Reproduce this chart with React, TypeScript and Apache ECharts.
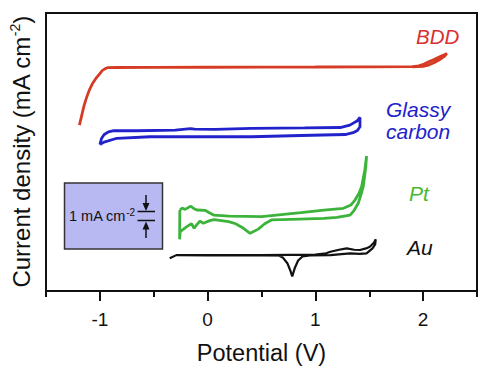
import React, { useEffect, useRef } from "react";
import * as echarts from "echarts";

// Potential (V) vs current density (mA cm-2, curves offset vertically)
const majorTicks = [-1, 0, 1, 2];
const minorTicks = [-1.5, -0.5, 0.5, 1.5, 2.5];

const bdd: [number, number][] = [
  [-1.19, 18.5], [-1.17, 19.5], [-1.145, 20.75], [-1.12, 21.7], [-1.098, 22.4],
  [-1.07, 23.1], [-1.037, 23.7], [-1.0, 24.25], [-0.976, 24.6], [-0.95, 24.8],
  [-0.93, 24.9], [-0.85, 24.92], [-0.5, 24.93], [0, 24.95], [0.5, 24.97],
  [1.0, 24.98], [1.5, 25.0], [1.9, 25.02], [1.96, 25.1], [2.01, 25.3],
  [2.053, 25.56], [2.1, 25.8], [2.144, 26.05], [2.19, 26.3], [2.22, 26.5],
  [2.2, 26.2], [2.16, 25.85], [2.1, 25.45], [2.05, 25.2], [2.0, 25.06], [1.9, 25.0],
];

const glassy: [number, number][] = [
  [-1.0, 16.33], [-0.985, 17.0], [-0.96, 17.45], [-0.92, 17.75], [-0.87, 17.87],
  [-0.66, 17.87], [-0.3, 17.95], [-0.16, 18.1], [-0.12, 18.05], [0.07, 18.02],
  [0.41, 18.14], [0.9, 18.18], [1.23, 18.23], [1.32, 18.5], [1.386, 18.95],
  [1.414, 19.36], [1.414, 18.32], [1.39, 17.9], [1.35, 17.65], [1.277, 17.45],
  [0.867, 17.34], [0.41, 17.2], [0.07, 17.22], [-0.534, 17.2], [-0.842, 17.03],
  [-0.961, 16.6], [-1.0, 16.33],
];

const pt: [number, number][] = [
  [-0.258, 9.03], [-0.235, 9.25], [-0.21, 9.1], [-0.18, 9.3], [-0.155, 9.45],
  [-0.13, 9.2], [-0.1, 9.03], [-0.02, 8.98], [0.02, 8.7], [0.06, 8.45],
  [0.2, 8.35], [0.5, 8.3], [0.866, 8.73], [1.079, 9.03], [1.26, 9.22],
  [1.33, 9.6], [1.368, 10.14], [1.405, 10.9], [1.429, 11.63], [1.459, 13.49],
  [1.475, 15.05], [1.468, 13.86], [1.444, 11.63], [1.42, 10.6], [1.398, 9.78],
  [1.36, 9.0], [1.322, 8.47], [1.2, 8.2], [1.079, 8.1], [0.774, 7.99],
  [0.592, 7.92], [0.53, 7.5], [0.47, 6.9], [0.394, 6.43], [0.333, 6.99],
  [0.26, 7.5], [0.196, 7.73], [0.059, 7.95], [0.02, 7.85], [-0.04, 7.55],
  [-0.07, 7.8], [-0.1, 7.4], [-0.125, 7.0], [-0.15, 7.5], [-0.19, 7.2],
  [-0.23, 6.85], [-0.255, 6.61], [-0.26, 5.76], [-0.258, 9.03],
];

const au: [number, number][] = [
  [-0.352, 3.65], [-0.29, 4.0], [0, 4.0], [0.5, 4.0], [1.0, 4.05],
  [1.1, 4.2], [1.14, 4.38], [1.22, 4.6], [1.29, 4.76], [1.36, 4.6],
  [1.414, 4.57], [1.47, 4.75], [1.505, 4.94], [1.545, 5.4], [1.56, 5.76],
  [1.555, 5.2], [1.53, 4.75], [1.475, 4.2], [1.41, 4.15], [1.322, 4.2],
  [1.14, 4.0], [0.95, 3.98], [0.88, 3.85], [0.84, 3.4], [0.81, 2.6],
  [0.785, 1.62], [0.77, 2.2], [0.74, 3.1], [0.70, 3.7], [0.66, 3.95],
  [0.5, 3.98], [0, 3.98], [-0.29, 4.0],
];

const FONT = "'Liberation Sans', Arial, sans-serif";

export default function App() {
  const ref = useRef<HTMLDivElement>(null);
  useEffect(() => {
    if (!ref.current) return;
    const chart = echarts.init(ref.current, null, { renderer: "svg" });
    const line = (data: [number, number][], color: string, width = 2.8) => ({
      type: "line",
      data,
      showSymbol: false,
      symbol: "none",
      silent: true,
      lineStyle: { color, width },
    });
    chart.setOption({
      animation: false,
      backgroundColor: "#ffffff",
      grid: {
        left: 42, right: 9, top: 13, bottom: 79,
        show: true, borderColor: "#111", borderWidth: 2,
      },
      xAxis: [
        {
          type: "value", min: -1.5, max: 2.5, position: "bottom",
          axisLine: { show: true, lineStyle: { color: "#111", width: 2 } },
          axisTick: { show: true, customValues: majorTicks, length: 10, lineStyle: { color: "#111", width: 2 } },
          axisLabel: {
            customValues: majorTicks, margin: 19, fontSize: 19, color: "#111", fontFamily: FONT,
            formatter: (v: number) => String(v),
          },
          splitLine: { show: false },
          name: "Potential (V)", nameLocation: "middle", nameGap: 50,
          nameTextStyle: { fontSize: 23.5, color: "#111", fontFamily: FONT },
        },
        {
          type: "value", min: -1.5, max: 2.5, position: "bottom",
          axisLine: { show: false },
          axisTick: { show: true, customValues: minorTicks, length: 6, lineStyle: { color: "#111", width: 2 } },
          axisLabel: { show: false },
          splitLine: { show: false },
        },
      ],
      yAxis: {
        type: "value", min: 0, max: 31,
        axisLine: { show: false }, axisTick: { show: false },
        axisLabel: { show: false }, splitLine: { show: false },
        name: "{a|Current density (mA cm}{s|-2}{a|)}",
        nameLocation: "middle", nameGap: 12, nameRotate: 90,
        nameTextStyle: {
          color: "#111", fontFamily: FONT,
          rich: {
            a: { fontSize: 24, color: "#111", fontFamily: FONT, lineHeight: 26 },
            s: { fontSize: 14, color: "#111", fontFamily: FONT, verticalAlign: "top", lineHeight: 26 },
          },
        },
      },
      series: [
        line(bdd, "#d63c25"),
        line(glassy, "#2222cc"),
        line(pt, "#3cb43c"),
        line(au, "#111111", 2.2),
      ],
      graphic: [
        { type: "text", style: { text: "BDD", x: 416, y: 36, align: "left", verticalAlign: "middle", font: `italic 20.5px ${FONT}`, fill: "#d83030" } },
        { type: "text", style: { text: "Glassy", x: 386, y: 109, align: "left", verticalAlign: "middle", font: `italic 21px ${FONT}`, fill: "#2222cc" } },
        { type: "text", style: { text: "carbon", x: 386, y: 131, align: "left", verticalAlign: "middle", font: `italic 21px ${FONT}`, fill: "#2222cc" } },
        { type: "text", style: { text: "Pt", x: 409, y: 193, align: "left", verticalAlign: "middle", font: `italic 21px ${FONT}`, fill: "#44bb33" } },
        { type: "text", style: { text: "Au", x: 407, y: 247, align: "left", verticalAlign: "middle", font: `italic 21px ${FONT}`, fill: "#111" } },
        { type: "rect", shape: { x: 64.5, y: 183, width: 98, height: 66 }, style: { fill: "#b8b8f2", stroke: "#333", lineWidth: 1.5 } },
        {
          type: "text",
          style: {
            text: "{a|1 mA cm}{s|-2}", x: 69, y: 216, align: "left", verticalAlign: "middle",
            rich: {
              a: { fontSize: 14.5, fontFamily: FONT, fill: "#111", lineHeight: 17 },
              s: { fontSize: 10, fontFamily: FONT, fill: "#111", verticalAlign: "top", lineHeight: 17 },
            },
          },
        },
        { type: "line", shape: { x1: 137.5, y1: 211.5, x2: 155, y2: 211.5 }, style: { stroke: "#111", lineWidth: 1.5 } },
        { type: "line", shape: { x1: 137.5, y1: 220.5, x2: 155, y2: 220.5 }, style: { stroke: "#111", lineWidth: 1.5 } },
        { type: "line", shape: { x1: 146, y1: 195, x2: 146, y2: 205 }, style: { stroke: "#111", lineWidth: 1.5 } },
        { type: "polygon", shape: { points: [[142.5, 203], [149.5, 203], [146, 211]] }, style: { fill: "#111" } },
        { type: "line", shape: { x1: 146, y1: 238, x2: 146, y2: 228 }, style: { stroke: "#111", lineWidth: 1.5 } },
        { type: "polygon", shape: { points: [[142.5, 229.5], [149.5, 229.5], [146, 221.5]] }, style: { fill: "#111" } },
      ],
    });
    return () => chart.dispose();
  }, []);
  return (
    <div
      ref={ref}
      style={{ position: "fixed", left: 0, top: 0, width: 486, height: 370, background: "#fff" }}
    />
  );
}
